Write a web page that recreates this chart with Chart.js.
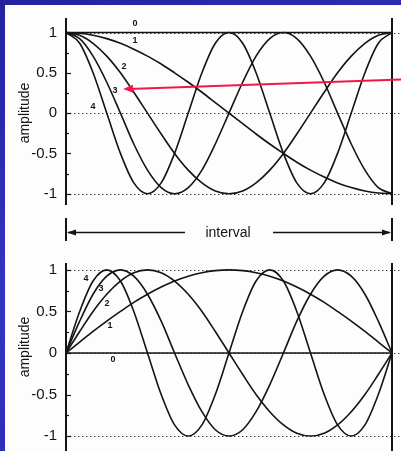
<!DOCTYPE html>
<html>
<head>
<meta charset="utf-8">
<script src="https://cdn.jsdelivr.net/npm/chart.js@4"></script>
<style>
  html, body { margin: 0; padding: 0; }
  body { width: 401px; height: 451px; overflow: hidden; position: relative;
         background: linear-gradient(160deg, #2323a0 0%, #3434c4 50%, #2828b0 100%); }
  #paper { position: absolute; left: 5px; top: 5px; right: 0; bottom: 0; background: #fdfdfd; }
  canvas { position: absolute; left: 0; }
  #top { top: 0; }
  #bottom { top: 245px; }
</style>
</head>
<body>
<div id="paper"></div>
<canvas id="top" width="401" height="245"></canvas>
<canvas id="bottom" width="401" height="226"></canvas>
<script>
// positions along the interval (0 = left end, 1 = right end)
const xs = [0, 0.042, 0.083, 0.125, 0.167, 0.208, 0.25, 0.292, 0.333, 0.375, 0.417, 0.458,
            0.5, 0.542, 0.583, 0.625, 0.667, 0.708, 0.75, 0.792, 0.833, 0.875, 0.917, 0.958, 1];

// upper panel: modes 0..4
const top0 = [1, 1, 1, 1, 1, 1, 1, 1, 1, 1, 1, 1, 1, 1, 1, 1, 1, 1, 1, 1, 1, 1, 1, 1, 1];
const top1 = [1, 0.991, 0.966, 0.924, 0.866, 0.793, 0.707, 0.609, 0.5, 0.383, 0.259, 0.131, 0,
              -0.131, -0.259, -0.383, -0.5, -0.609, -0.707, -0.793, -0.866, -0.924, -0.966, -0.991, -1];
const top2 = [1, 0.966, 0.866, 0.707, 0.5, 0.259, 0, -0.259, -0.5, -0.707, -0.866, -0.966, -1,
              -0.966, -0.866, -0.707, -0.5, -0.259, 0, 0.259, 0.5, 0.707, 0.866, 0.966, 1];
const top3 = [1, 0.924, 0.707, 0.383, 0, -0.383, -0.707, -0.924, -1, -0.924, -0.707, -0.383, 0,
              0.383, 0.707, 0.924, 1, 0.924, 0.707, 0.383, 0, -0.383, -0.707, -0.924, -1];
const top4 = [1, 0.866, 0.5, 0, -0.5, -0.866, -1, -0.866, -0.5, 0, 0.5, 0.866, 1,
              0.866, 0.5, 0, -0.5, -0.866, -1, -0.866, -0.5, 0, 0.5, 0.866, 1];

// lower panel: modes 0..4
const bot0 = [0, 0, 0, 0, 0, 0, 0, 0, 0, 0, 0, 0, 0, 0, 0, 0, 0, 0, 0, 0, 0, 0, 0, 0, 0];
const bot1 = [0, 0.131, 0.259, 0.383, 0.5, 0.609, 0.707, 0.793, 0.866, 0.924, 0.966, 0.991, 1,
              0.991, 0.966, 0.924, 0.866, 0.793, 0.707, 0.609, 0.5, 0.383, 0.259, 0.131, 0];
const bot2 = [0, 0.259, 0.5, 0.707, 0.866, 0.966, 1, 0.966, 0.866, 0.707, 0.5, 0.259, 0,
              -0.259, -0.5, -0.707, -0.866, -0.966, -1, -0.966, -0.866, -0.707, -0.5, -0.259, 0];
const bot3 = [0, 0.383, 0.707, 0.924, 1, 0.924, 0.707, 0.383, 0, -0.383, -0.707, -0.924, -1,
              -0.924, -0.707, -0.383, 0, 0.383, 0.707, 0.924, 1, 0.924, 0.707, 0.383, 0];
const bot4 = [0, 0.5, 0.866, 1, 0.866, 0.5, 0, -0.5, -0.866, -1, -0.866, -0.5, 0,
              0.5, 0.866, 1, 0.866, 0.5, 0, -0.5, -0.866, -1, -0.866, -0.5, 0];

const yTicks = [-1, -0.5, 0, 0.5, 1];
const yMinor = [-0.75, -0.25, 0.25, 0.75];

// curve labels: [text, x, y] in data units
const topLabels = [['0', 0.212, 1.107], ['1', 0.212, 0.905], ['2', 0.178, 0.583],
                   ['3', 0.150, 0.286], ['4', 0.083, 0.083]];
const botLabels = [['4', 0.061, 0.893], ['3', 0.107, 0.774], ['2', 0.126, 0.595],
                   ['1', 0.135, 0.333], ['0', 0.144, -0.083]];

// red pointer from right edge to label 3
const pointerFrom = [1.028, 0.417];
const pointerTo = [0.175, 0.298];

const FONT = '"Liberation Sans", Arial, sans-serif';
const INK = '#141414';

function toPoints(vals) {
    return vals.map((v, i) => ({ x: xs[i], y: v }));
}

function makeDatasets(series) {
    return series.map(s => ({
        data: toPoints(s),
        borderColor: INK,
        borderWidth: 1.6,
        pointRadius: 0,
        fill: false,
        cubicInterpolationMode: 'monotone'
    }));
}

function arrowHead(ctx, x, y, dx, dy, len, half) {
    const l = Math.hypot(dx, dy);
    const ux = dx / l, uy = dy / l;
    ctx.beginPath();
    ctx.moveTo(x, y);
    ctx.lineTo(x - ux * len - uy * half, y - uy * len + ux * half);
    ctx.lineTo(x - ux * len + uy * half, y - uy * len - ux * half);
    ctx.closePath();
    ctx.fill();
}

// dotted reference lines, axis frame, ticks and curve numbers
const framePlugin = {
    id: 'frame',
    beforeDatasetsDraw(chart, args, opts) {
        const { ctx, chartArea: a, scales: { y } } = chart;
        ctx.save();
        ctx.setLineDash([1.4, 2.6]);
        ctx.strokeStyle = '#333';
        ctx.lineWidth = 1.2;
        opts.dotted.forEach(v => {
            const py = Math.round(y.getPixelForValue(v)) + 0.5;
            ctx.beginPath();
            ctx.moveTo(a.left, py);
            ctx.lineTo(chart.width, py);
            ctx.stroke();
        });
        ctx.restore();
    },
    afterDraw(chart, args, opts) {
        const { ctx, chartArea: a, scales: { x, y } } = chart;
        ctx.save();
        ctx.strokeStyle = INK;
        ctx.lineWidth = 2;
        [a.left, a.right].forEach(px => {
            ctx.beginPath();
            ctx.moveTo(px, a.top);
            ctx.lineTo(px, a.bottom);
            ctx.stroke();
        });
        ctx.lineWidth = 1.2;
        yTicks.forEach(v => {
            const py = Math.round(y.getPixelForValue(v)) + 0.5;
            ctx.beginPath(); ctx.moveTo(a.left, py); ctx.lineTo(a.left + 5, py); ctx.stroke();
        });
        yMinor.forEach(v => {
            const py = Math.round(y.getPixelForValue(v)) + 0.5;
            ctx.beginPath(); ctx.moveTo(a.left, py); ctx.lineTo(a.left + 3, py); ctx.stroke();
        });

        ctx.fillStyle = INK;
        ctx.font = 'bold 9px ' + FONT;
        ctx.textAlign = 'center';
        ctx.textBaseline = 'middle';
        opts.labels.forEach(([t, lx, ly]) => {
            ctx.fillText(t, x.getPixelForValue(lx), y.getPixelForValue(ly));
        });

        // axis title
        ctx.font = '14px ' + FONT;
        ctx.translate(25, opts.titleY);
        ctx.rotate(-Math.PI / 2);
        ctx.fillText('amplitude', 0, 0);
        ctx.restore();
    }
};

// "interval" arrows under the upper panel, plus the red pointer
const extrasPlugin = {
    id: 'extras',
    afterDraw(chart) {
        const { ctx, scales: { x, y } } = chart;
        const x0 = x.getPixelForValue(0), x1 = x.getPixelForValue(1);
        ctx.save();
        ctx.strokeStyle = INK;
        ctx.fillStyle = INK;
        ctx.lineWidth = 2;
        [x0, x1].forEach(px => {
            ctx.beginPath(); ctx.moveTo(px, 218); ctx.lineTo(px, 241); ctx.stroke();
        });
        ctx.lineWidth = 1.3;
        ctx.beginPath(); ctx.moveTo(x0 + 2, 232.5); ctx.lineTo(185, 232.5); ctx.stroke();
        ctx.beginPath(); ctx.moveTo(273, 232.5); ctx.lineTo(x1 - 2, 232.5); ctx.stroke();
        arrowHead(ctx, x0 + 1, 232.5, -1, 0, 9, 3);
        arrowHead(ctx, x1 - 1, 232.5, 1, 0, 9, 3);
        ctx.font = '14px ' + FONT;
        ctx.textAlign = 'center';
        ctx.textBaseline = 'middle';
        ctx.fillText('interval', 228, 233);

        const fx = x.getPixelForValue(pointerFrom[0]), fy = y.getPixelForValue(pointerFrom[1]);
        const tx = x.getPixelForValue(pointerTo[0]), ty = y.getPixelForValue(pointerTo[1]);
        ctx.strokeStyle = '#f0184a';
        ctx.fillStyle = '#f0184a';
        ctx.lineWidth = 2;
        ctx.beginPath(); ctx.moveTo(fx, fy); ctx.lineTo(tx + 6, ty - 0.2); ctx.stroke();
        arrowHead(ctx, tx, ty, tx - fx, ty - fy, 10, 4);
        ctx.restore();
    }
};

function makeChart(id, series, yMin, yMax, padding, opts, extra) {
    return new Chart(document.getElementById(id), {
        type: 'line',
        data: { datasets: makeDatasets(series) },
        options: {
            responsive: false,
            animation: false,
            layout: { padding: padding },
            plugins: { legend: { display: false }, tooltip: { enabled: false }, frame: opts },
            scales: {
                x: { type: 'linear', min: 0, max: 1, display: false },
                y: {
                    min: yMin, max: yMax,
                    afterBuildTicks: s => { s.ticks = yTicks.map(v => ({ value: v })); },
                    afterFit: s => { s.width = 66; },
                    grid: { display: false, drawTicks: false },
                    border: { display: false },
                    ticks: {
                        padding: 9, color: INK, font: { size: 15, family: FONT },
                        callback: v => String(v)
                    }
                }
            }
        },
        plugins: extra ? [framePlugin, extra] : [framePlugin]
    });
}

makeChart('top', [top0, top1, top2, top3, top4], -1.14, 1.18,
    { top: 10, bottom: 40, left: 0, right: 9 },
    { dotted: [1, 0, -1], labels: topLabels, titleY: 113 }, extrasPlugin);

makeChart('bottom', [bot0, bot1, bot2, bot3, bot4], -1.18, 1.083,
    { top: 16, bottom: 20, left: 0, right: 9 },
    { dotted: [1, 0, -1], labels: botLabels, titleY: 102 });
</script>
</body>
</html>
